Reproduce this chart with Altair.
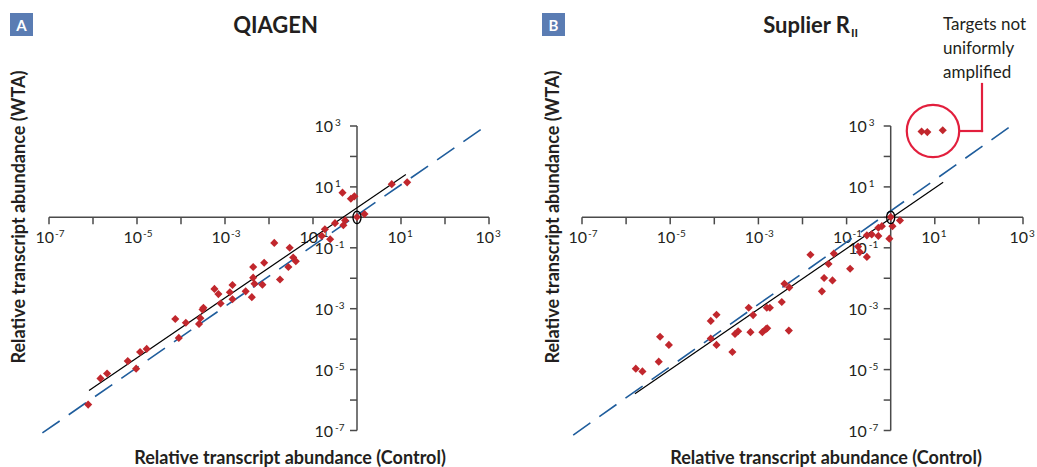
import altair as alt
import pandas as pd

W, H = 1037, 467
FONT = "Lato"
TXT = "#231f20"
AXC = "#4a4a4a"
RED = "#c1272d"
BLUE = "#1f5d9c"
CALL = "#e21f3d"
BOX = "#5a7cb3"

# ---------------- data (log10 of relative transcript abundance) ----------------
decades = list(range(-7, 4))
label_exps = [-7, -5, -3, -1, 1, 3]
label_base = ["10"] * 6
label_sup = ["-7", "-5", "-3", "-1", "1", "3"]

a_ctrl_exp = [-6.11, -5.83, -5.68, -5.21, -5.02, -4.93, -4.78, -4.13, -4.05, -3.89,
              -3.59, -3.56, -3.51, -3.49, -3.24, -3.15, -3.10, -2.89, -2.83, -2.83,
              -2.53, -2.39, -2.36, -2.36, -2.33, -2.15, -2.11, -1.88, -1.75, -1.56,
              -1.53, -1.45, -1.39, -0.80, -0.73, -0.61, -0.50, -0.31, -0.27, -0.33,
              -0.14, -0.06, 0.79, 1.14, 0.00, 0.17]
a_wta_exp = [-6.15, -5.29, -5.13, -4.72, -4.97, -4.42, -4.32, -3.34, -3.96, -3.46,
             -3.50, -3.31, -3.03, -2.97, -2.35, -2.52, -2.83, -2.46, -2.22, -2.69,
             -2.43, -2.62, -1.98, -1.63, -2.18, -2.21, -1.49, -0.84, -2.04, -1.63,
             -1.00, -1.32, -1.44, -0.61, -0.39, -0.72, -0.19, -0.26, -0.10, 0.81,
             0.61, 0.69, 1.09, 1.15, 0.01, 0.11]

b_ctrl_exp = [-5.78, -5.63, -5.26, -5.23, -5.03, -4.08, -3.95, -4.08, -3.95, -3.59,
              -3.53, -3.46, -3.22, -3.18, -3.12, -2.91, -2.83, -2.80, -2.81, -2.74,
              -2.47, -2.41, -2.30, -2.31, -1.82, -1.56, -1.51, -1.41, -1.32, -1.29,
              -0.92, -0.74, -0.70, -0.54, -0.54, -0.43, -0.28, -0.28, -0.20, -0.03,
              0.04, 0.21, 0.00, 0.70, 0.83, 1.18]
b_wta_exp = [-4.97, -5.06, -4.74, -3.92, -4.19, -3.40, -3.20, -3.98, -4.19, -4.42,
             -3.83, -3.74, -2.97, -3.77, -3.21, -3.77, -3.67, -3.64, -2.97, -2.97,
             -2.78, -2.18, -2.30, -3.72, -1.23, -2.43, -1.99, -1.53, -2.07, -1.19,
             -1.69, -0.96, -1.14, -1.30, -0.59, -0.56, -0.61, -0.34, -0.29, -0.70,
             -0.29, -0.10, 0.01, 2.82, 2.80, 2.86]

a_fit_ctrl = [-6.09, 1.11]
a_fit_wta = [-5.69, 1.41]
b_fit_ctrl = [-5.80, 1.19]
b_fit_wta = [-5.79, 1.15]
a_id_ctrl = [-7.15, 2.85]
a_id_wta = [-7.08, 2.92]
b_id_ctrl = [-7.20, 2.68]
b_id_wta = [-7.15, 2.95]

# ---------------- scale geometry ----------------
XDOM_A = [10 ** (-7 - 49 / 44.0), 10 ** (-7 + (W - 49) / 44.0)]
XDOM_B = [10 ** (-7 - 582 / 44.1), 10 ** (-7 + (W - 582) / 44.1)]
YDOM = [10 ** (3 - (H - 126) / 30.45), 10 ** (3 + 126 / 30.45)]

ELLIPSE = "M0,-1 A0.64,1 0 1,1 0,1 A0.64,1 0 1,1 0,-1 Z"


def panel(ctrl_exp, wta_exp, fit_c, fit_w, id_c, id_w, xdom):
    xs = alt.Scale(type="log", domain=xdom, nice=False)
    ys = alt.Scale(type="log", domain=YDOM, nice=False)

    def X(f):
        return alt.X(f, type="quantitative", scale=xs, axis=None)

    def Y(f):
        return alt.Y(f, type="quantitative", scale=ys, axis=None)

    axis_df = pd.DataFrame({"lo": [1e-7], "hi": [1e3], "one": [1.0]})
    xline = alt.Chart(axis_df).mark_rule(color=AXC, strokeWidth=1.5).encode(
        x=X("lo"), x2="hi", y=Y("one"))
    yline = alt.Chart(axis_df).mark_rule(color=AXC, strokeWidth=1.5).encode(
        y=Y("lo"), y2="hi", x=X("one"))

    tick_df = pd.DataFrame({"v": [10.0 ** k for k in decades], "one": 1.0})
    xt = alt.Chart(tick_df).mark_rule(color=AXC, strokeWidth=1.5, y2Offset=7).encode(
        x=X("v"), y=Y("one"), y2="one")
    yt = alt.Chart(tick_df).mark_rule(color=AXC, strokeWidth=1.5, x2Offset=-7).encode(
        y=Y("v"), x=X("one"), x2="one")

    lab_df = pd.DataFrame({"v": [10.0 ** e for e in label_exps], "base": label_base,
                           "sup": label_sup, "one": 1.0})
    xl = alt.Chart(lab_df).mark_text(align="right", baseline="alphabetic", dx=5, dy=26,
                                     fontSize=16, font=FONT, color=TXT).encode(
        x=X("v"), y=Y("one"), text="base:N")
    xs_ = alt.Chart(lab_df).mark_text(align="left", baseline="alphabetic", dx=6, dy=20,
                                      fontSize=10, font=FONT, color=TXT).encode(
        x=X("v"), y=Y("one"), text="sup:N")
    yl = alt.Chart(lab_df).mark_text(align="right", baseline="alphabetic", dx=-24, dy=6,
                                     fontSize=16, font=FONT, color=TXT).encode(
        y=Y("v"), x=X("one"), text="base:N")
    ys_ = alt.Chart(lab_df).mark_text(align="left", baseline="alphabetic", dx=-22, dy=0,
                                      fontSize=10, font=FONT, color=TXT).encode(
        y=Y("v"), x=X("one"), text="sup:N")

    id_df = pd.DataFrame({"c": [10 ** v for v in id_c], "w": [10 ** v for v in id_w]})
    ident = alt.Chart(id_df).mark_line(color=BLUE, strokeWidth=1.6,
                                       strokeDash=[21, 11]).encode(x=X("c"), y=Y("w"))
    fit_df = pd.DataFrame({"c": [10 ** v for v in fit_c], "w": [10 ** v for v in fit_w]})
    fit = alt.Chart(fit_df).mark_line(color="black", strokeWidth=1.2).encode(
        x=X("c"), y=Y("w"))

    pts_df = pd.DataFrame({"c": [10 ** v for v in ctrl_exp],
                           "w": [10 ** v for v in wta_exp]})
    pts = alt.Chart(pts_df).mark_point(shape="diamond", filled=True, size=66,
                                       color=RED, opacity=1).encode(x=X("c"), y=Y("w"))

    org_df = pd.DataFrame({"c": [1.0], "w": [1.0]})
    org = alt.Chart(org_df).mark_point(shape=ELLIPSE, filled=False, size=160,
                                       stroke="black", strokeWidth=1.3,
                                       opacity=1).encode(x=X("c"), y=Y("w"))

    return alt.layer(xline, yline, xt, yt, xl, xs_, yl, ys_, ident, fit, pts, org)


def text_at(t, x, y, color=TXT, **kw):
    return alt.Chart(pd.DataFrame({"t": [t]})).mark_text(font=FONT, color=color, **kw).encode(
        x=alt.value(x), y=alt.value(y), text="t:N")


def box_at(x, y):
    return alt.Chart(pd.DataFrame({"t": ["box"]})).mark_square(
        size=529, color=BOX, opacity=1).encode(x=alt.value(x), y=alt.value(y))


pA = panel(a_ctrl_exp, a_wta_exp, a_fit_ctrl, a_fit_wta, a_id_ctrl, a_id_wta, XDOM_A)
pB = panel(b_ctrl_exp, b_wta_exp, b_fit_ctrl, b_fit_wta, b_id_ctrl, b_id_wta, XDOM_B)

annot = [
    box_at(21.5, 24.5),
    text_at("A", 21.5, 25.5, color="white", fontSize=15, fontWeight="bold",
            align="center", baseline="middle"),
    box_at(553.5, 24.5),
    text_at("B", 553.5, 25.5, color="white", fontSize=15, fontWeight="bold",
            align="center", baseline="middle"),
    text_at("QIAGEN", 275.5, 33, fontSize=22, fontWeight="bold", align="center",
            baseline="alphabetic"),
    text_at("Suplier R", 850, 33, fontSize=22, fontWeight="bold", align="right",
            baseline="alphabetic"),
    text_at("II", 851, 37, fontSize=12, fontWeight="bold", align="left",
            baseline="alphabetic"),
    text_at("Relative transcript abundance (WTA)", 20, 217, fontSize=18,
            fontWeight="bold", angle=270, align="center", baseline="middle"),
    text_at("Relative transcript abundance (WTA)", 554, 217, fontSize=18,
            fontWeight="bold", angle=270, align="center", baseline="middle"),
    text_at("Relative transcript abundance (Control)", 290, 464, fontSize=18,
            fontWeight="bold", align="center", baseline="alphabetic"),
    text_at("Relative transcript abundance (Control)", 826, 464, fontSize=18,
            fontWeight="bold", align="center", baseline="alphabetic"),
    text_at("Targets not\nuniformly\namplified", 943, 30, fontSize=17, align="left",
            baseline="alphabetic", lineBreak="\n", lineHeight=24),
    alt.Chart(pd.DataFrame({"t": ["c"]})).mark_point(
        shape="circle", filled=False, size=2750, stroke=CALL, strokeWidth=2.2,
        opacity=1).encode(x=alt.value(933), y=alt.value(131)),
    alt.Chart(pd.DataFrame({"t": ["c"]})).mark_rule(
        color=CALL, strokeWidth=2.2, strokeCap="square").encode(
        x=alt.value(960), x2=alt.value(982), y=alt.value(131)),
    alt.Chart(pd.DataFrame({"t": ["c"]})).mark_rule(
        color=CALL, strokeWidth=2.2, strokeCap="square").encode(
        x=alt.value(982), y=alt.value(84), y2=alt.value(131)),
]

chart = alt.layer(pA, pB, *annot).resolve_scale(
    x="independent", y="independent"
).properties(
    width=W, height=H, padding=0,
    autosize=alt.AutoSizeParams(type="none"),
    background="white",
).configure_view(stroke=None)

chart.save("out.html", embed_options={"renderer": "svg", "actions": False})
